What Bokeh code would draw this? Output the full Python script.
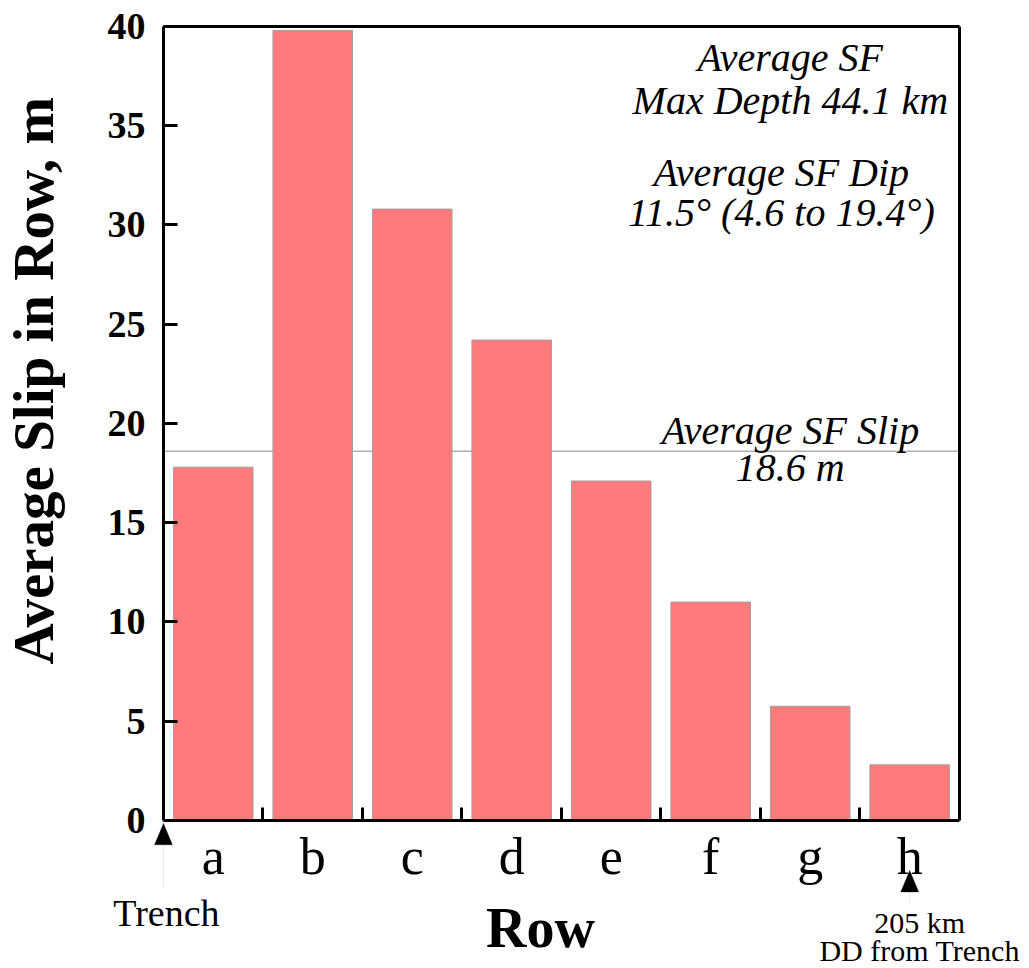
from bokeh.plotting import figure
from bokeh.models import (Range1d, FixedTicker, Label, PolyAnnotation,
                          ColumnDataSource, LinearAxis)
from bokeh.embed import file_html
from bokeh.resources import INLINE

rows = ["a", "b", "c", "d", "e", "f", "g", "h"]
avg_slip = [17.8, 39.8, 30.8, 24.2, 17.1, 11.0, 5.75, 2.8]
avg_sf_slip = 18.6
y_ticks = [0, 5, 10, 15, 20, 25, 30, 35, 40]
y_max = 40

SERIF = "Liberation Serif"
NB = "\u00a0"

n = len(rows)
x_centers = [i + 0.5 for i in range(n)]
x_bounds = [i for i in range(1, n)]

src = ColumnDataSource(dict(x=x_centers, top=avg_slip, row=rows))

# the frame covers the whole canvas; axes are drawn at fixed data locations
p = figure(width=1029, height=968, output_backend="svg", toolbar_location=None,
           x_range=Range1d(-1.638, 8.704), y_range=Range1d(-7.46, 41.31),
           min_border_left=0, min_border_right=0, min_border_top=0,
           min_border_bottom=0)
p.background_fill_color = "white"
p.border_fill_color = "white"
p.outline_line_color = None
p.xgrid.visible = False
p.ygrid.visible = False

# average line beneath bars (from the y axis to the right border)
p.segment(x0=[0], y0=[avg_sf_slip], x1=[n], y1=[avg_sf_slip],
          line_color="#b0b0b0", line_width=1.5, level="underlay")

p.vbar(x="x", top="top", bottom=0, width=0.8, source=src,
       fill_color="#FF7B7B", line_color="#a0a0a0", line_width=1)

# x axis at y = 0: labels at centres, ticks at boundaries (minor ticks)
xax = p.xaxis[0]
xax.fixed_location = 0
xax.bounds = (0, n)
xax.ticker = FixedTicker(ticks=x_centers, minor_ticks=x_bounds)
xax.major_label_overrides = {c: r for c, r in zip(x_centers, rows)}
xax.major_tick_line_color = None
xax.minor_tick_in = 13
xax.minor_tick_out = 0
xax.minor_tick_line_width = 3
xax.minor_tick_line_color = "black"
xax.axis_line_width = 3
xax.major_label_text_font = SERIF
xax.major_label_text_font_size = "52px"
xax.major_label_text_color = "black"
xax.major_label_standoff = 2
xax.axis_label = "Row" + NB * 3
xax.axis_label_text_font = SERIF
xax.axis_label_text_font_style = "bold"
xax.axis_label_text_font_size = "56px"
xax.axis_label_text_color = "black"
xax.axis_label_standoff = 8

# y axis at x = 0
yax = p.yaxis[0]
yax.fixed_location = 0
yax.bounds = (0, y_max)
yax.ticker = FixedTicker(ticks=y_ticks, minor_ticks=[])
yax.major_tick_in = 14
yax.major_tick_out = 0
yax.major_tick_line_width = 3
yax.axis_line_width = 3
yax.major_label_text_font = SERIF
yax.major_label_text_font_style = "bold"
yax.major_label_text_font_size = "38px"
yax.major_label_text_color = "black"
yax.major_label_standoff = 18
yax.axis_label = NB * 6 + "Average Slip in Row, m"
yax.axis_label_text_font = SERIF
yax.axis_label_text_font_style = "bold"
yax.axis_label_text_font_size = "57px"
yax.axis_label_text_color = "black"
yax.axis_label_standoff = 40

# top and right border of the box
def border_axis(bounds, loc):
    return LinearAxis(bounds=bounds, fixed_location=loc, ticker=FixedTicker(ticks=[]),
                      major_label_text_font_size="0px",
                      major_tick_line_color=None, minor_tick_line_color=None,
                      axis_line_width=3, axis_line_color="black")

p.add_layout(border_axis((0, y_max), n), "right")
p.add_layout(border_axis((0, n), y_max), "above")

def lab(x, y, text, size="40px", style="italic"):
    p.add_layout(Label(x=x, y=y, text=text, text_font=SERIF, text_font_style=style,
                       text_font_size=size, text_align="center",
                       text_baseline="middle", text_color="black"))

lab(6.3, 38.44, "Average SF")
lab(6.3, 36.27, "Max Depth 44.1 km")
lab(6.21, 32.64, "Average SF Dip")
lab(6.21, 30.63, "11.5° (4.6 to 19.4°)")
lab(6.3, 19.65, "Average SF Slip")
lab(6.3, 17.78, "18.6 m")

# trench / depth markers below the axis
lab(0.03, -4.68, "Trench", size="38px", style="normal")
lab(7.6, -5.14, "205 km", size="30px", style="normal")
lab(7.6, -6.55, "DD from Trench", size="30px", style="normal")

def marker(x, tip, tail):
    hw = 0.09          # half width of head, data units (~9 px)
    hl = 1.08          # head length, data units (~21 px)
    p.add_layout(PolyAnnotation(xs=[x, x], ys=[tip - hl, tail],
                                line_color="#b0b0b0", line_width=1,
                                fill_alpha=0))
    p.add_layout(PolyAnnotation(xs=[x, x - hw, x + hw], ys=[tip, tip - hl, tip - hl],
                                line_color="black", line_width=1,
                                fill_color="black", fill_alpha=1))

marker(0, -0.15, -3.38)
marker(7.5, -2.52, -4.13)

open("out.html", "w").write(file_html(p, INLINE))
